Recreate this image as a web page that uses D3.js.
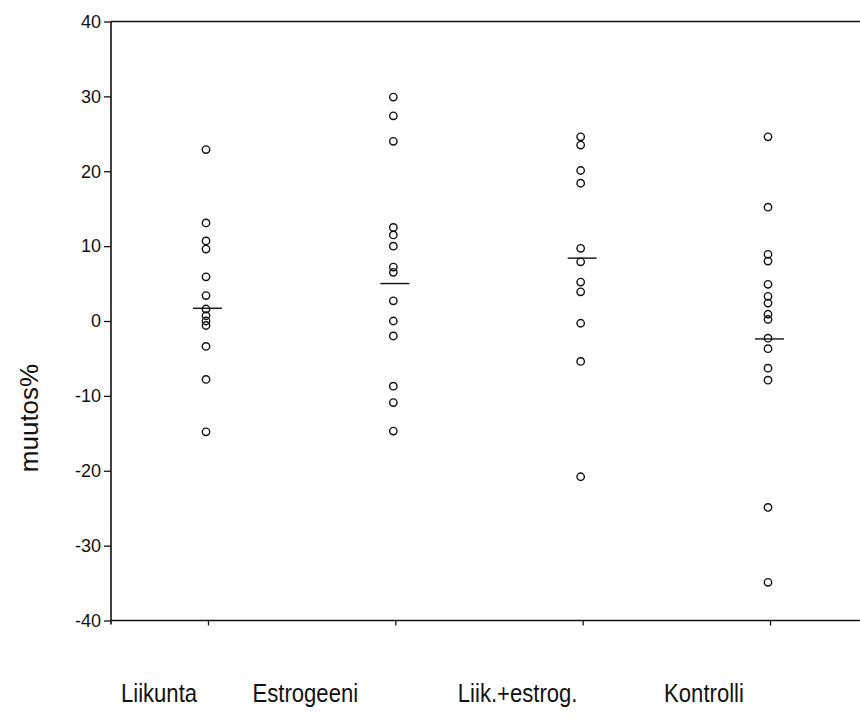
<!DOCTYPE html>
<html>
<head>
<meta charset="utf-8">
<script src="https://cdn.jsdelivr.net/npm/d3@7"></script>
<style>
  html, body { margin: 0; padding: 0; background: #fff; }
  svg { display: block; }
  text { font-family: "Liberation Sans", Arial, Helvetica, sans-serif; fill: #111; }
</style>
</head>
<body>
<svg id="chart" width="860" height="727"></svg>
<script>
// ---- data ----
const categories = ["Liikunta", "Estrogeeni", "Liik.+estrog.", "Kontrolli"];
const liikunta   = [22.9, 13.1, 10.7, 9.6, 5.9, 3.4, 1.6, 0.7, 0.0, -0.6, -3.4, -7.8, -14.8];
const estrogeeni = [29.9, 27.4, 24.0, 12.5, 11.5, 10.0, 7.2, 6.5, 2.7, 0.0, -2.0, -8.7, -10.9, -14.7];
const liikEstrog = [24.6, 23.5, 20.1, 18.4, 9.7, 7.9, 5.2, 3.9, -0.3, -5.4, -20.8];
const kontrolli  = [24.6, 15.2, 8.9, 8.0, 4.9, 3.3, 2.4, 0.9, 0.2, -2.3, -3.7, -6.3, -7.9, -24.9, -34.9];
const centerValues = [1.7, 5.0, 8.4, -2.4];   // horizontal marker per group
const yTicks = [-40, -30, -20, -10, 0, 10, 20, 30, 40];
const yLabel = "muutos%";

const groups = [liikunta, estrogeeni, liikEstrog, kontrolli];

// ---- layout ----
const svg = d3.select("#chart");
const mLeft = 111, mRight = 860, mTop = 21.5, mBottom = 620.5;

const y = d3.scaleLinear().domain([-40, 40]).range([mBottom, mTop]);
const x = d3.scalePoint().domain(categories).range([208, 770]);

// frame lines
svg.append("line").attr("x1", mLeft).attr("x2", mRight).attr("y1", mTop).attr("y2", mTop)
  .attr("stroke", "#111").attr("stroke-width", 1.4);
svg.append("line").attr("x1", mLeft).attr("x2", mRight).attr("y1", mBottom).attr("y2", mBottom)
  .attr("stroke", "#111").attr("stroke-width", 1.6);
svg.append("line").attr("x1", mLeft).attr("x2", mLeft).attr("y1", mTop).attr("y2", mBottom + 4)
  .attr("stroke", "#111").attr("stroke-width", 1.6);

// y axis
const yAxis = d3.axisLeft(y).tickValues(yTicks).tickFormat(d => String(d))
  .tickSize(7).tickPadding(3).tickSizeOuter(0);
const gy = svg.append("g").attr("transform", `translate(${mLeft},0)`).call(yAxis);
gy.select(".domain").remove();
gy.selectAll(".tick line").attr("stroke", "#111").attr("stroke-width", 1.3);
gy.selectAll(".tick text").attr("font-size", 18).attr("fill", "#111")
  .style("font-family", '"Liberation Sans", Arial, sans-serif');

// x axis ticks
const xAxis = d3.axisBottom(x).tickFormat("").tickSize(5).tickSizeOuter(0);
const gx = svg.append("g").attr("transform", `translate(0,${mBottom})`).call(xAxis);
gx.select(".domain").remove();
gx.selectAll(".tick line").attr("stroke", "#111").attr("stroke-width", 1.3);

// y label
svg.append("text")
  .attr("transform", `translate(38,418) rotate(-90)`)
  .attr("text-anchor", "middle")
  .attr("font-size", 26)
  .text(yLabel);

// category labels (slightly condensed, as in the original)
const labelOffset = [-49, -90, -65, -66];
svg.selectAll("text.cat").data(categories).enter().append("text")
  .attr("class", "cat")
  .attr("transform", (d, i) => `translate(${x(d) + labelOffset[i]},702) scale(0.85,1)`)
  .attr("text-anchor", "middle")
  .attr("font-size", 26)
  .text(d => d);

// points
groups.forEach((vals, i) => {
  const cx = x(categories[i]) - 2;
  svg.append("g").selectAll("circle").data(vals).enter().append("circle")
    .attr("cx", cx)
    .attr("cy", d => y(d))
    .attr("r", 3.7)
    .attr("fill", "none")
    .attr("stroke", "#111")
    .attr("stroke-width", 1.4);
  svg.append("line")
    .attr("x1", x(categories[i]) - 15).attr("x2", x(categories[i]) + 14)
    .attr("y1", y(centerValues[i])).attr("y2", y(centerValues[i]))
    .attr("stroke", "#111").attr("stroke-width", 1.4);
});
</script>
</body>
</html>
